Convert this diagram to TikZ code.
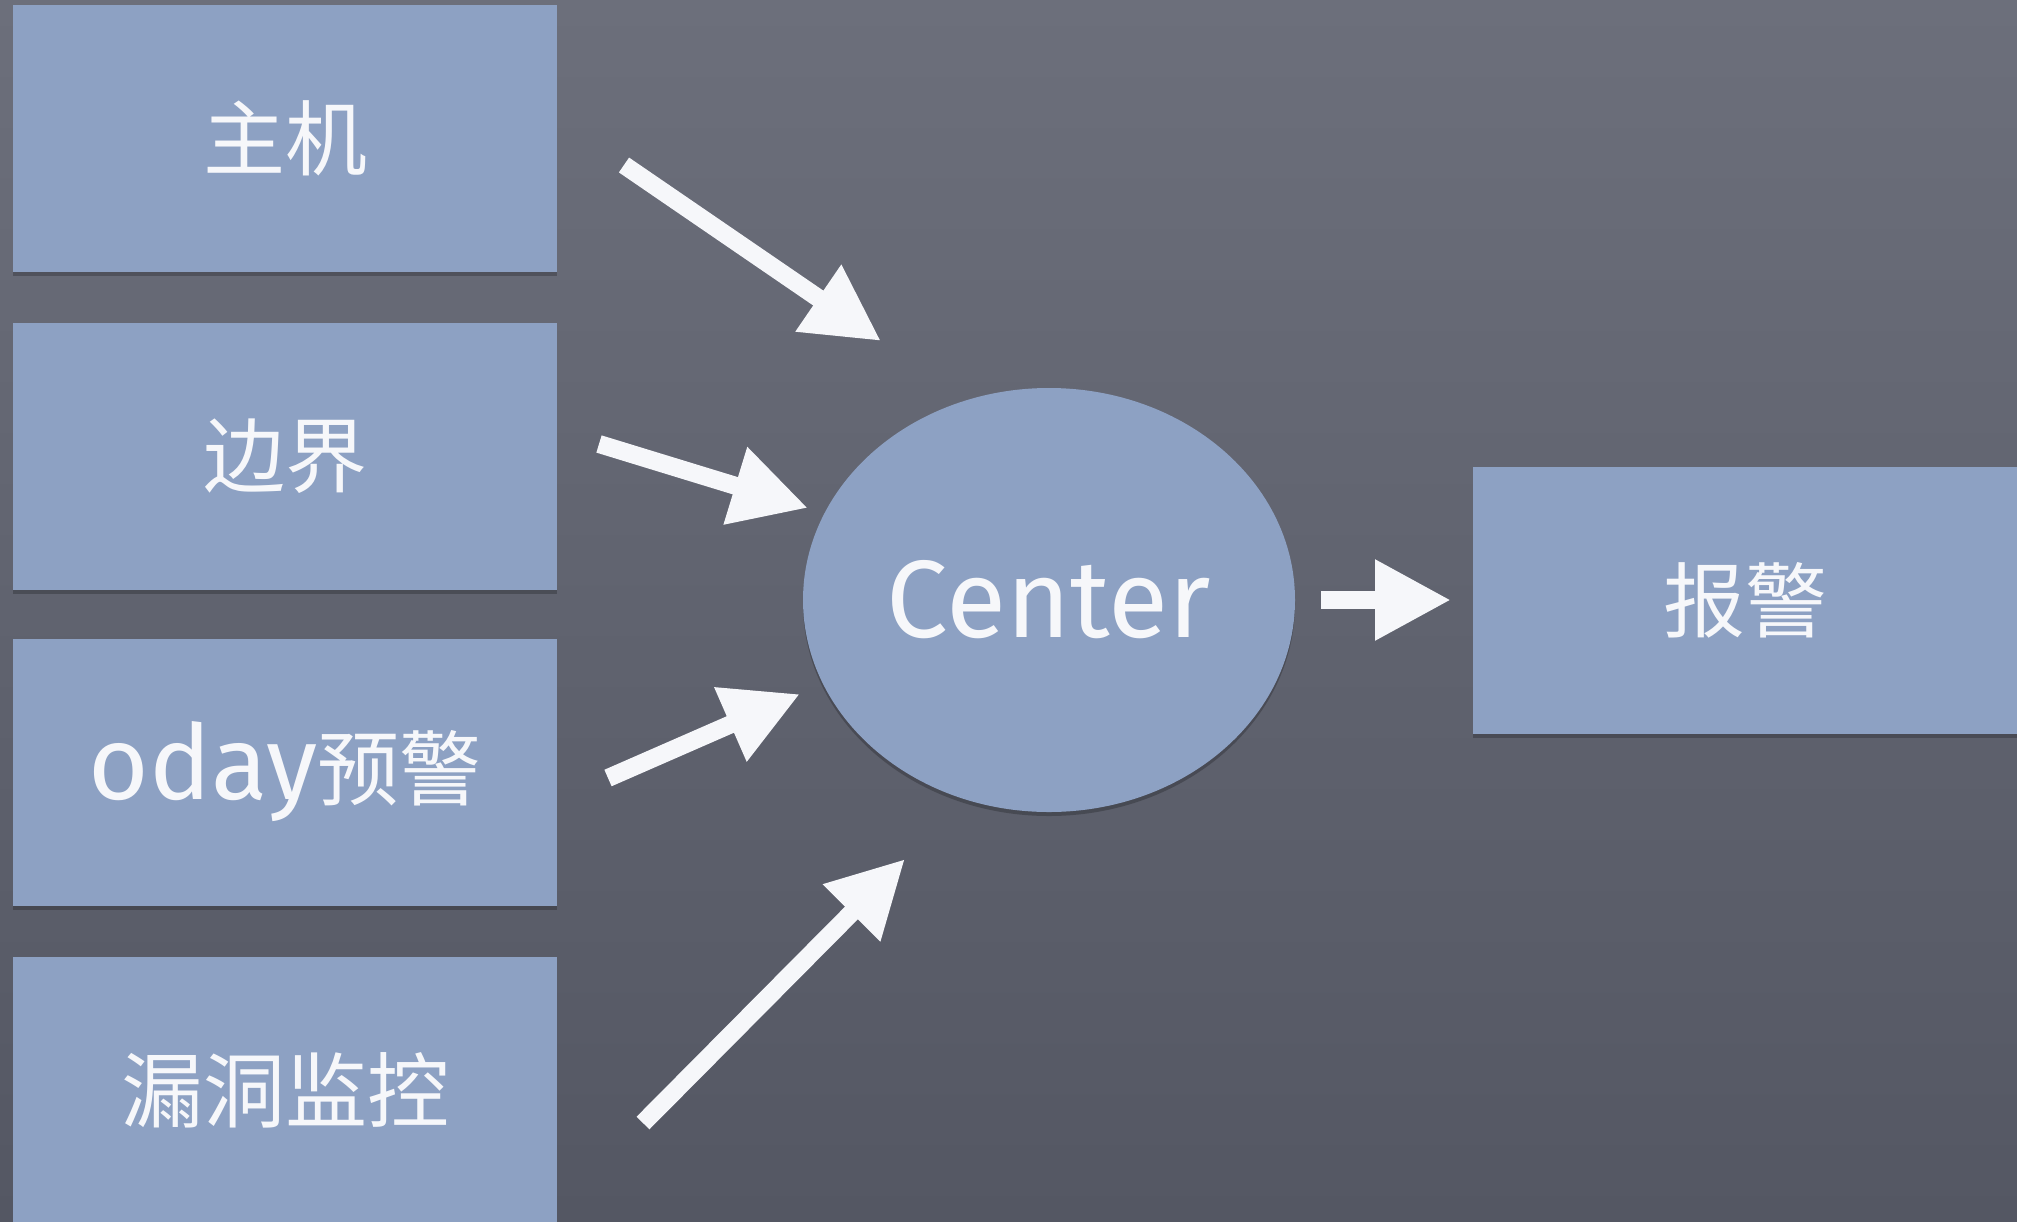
\documentclass[tikz,border=0pt]{standalone}
\usepackage{fontspec}
\setmainfont{Fira Sans}
\newfontfamily\cjk{Noto Sans CJK SC}
\newfontfamily\chalk{Fira Sans}
\usetikzlibrary{shapes.geometric,arrows.meta,shadows}
\definecolor{boardtop}{RGB}{108,111,123}
\definecolor{boardbot}{RGB}{84,87,99}
\definecolor{cardblue}{RGB}{141,161,195}
\definecolor{chalkwhite}{RGB}{246,247,250}
\tikzset{
  softshadow/.style={drop shadow={shadow xshift=0pt, shadow yshift=-2pt, opacity=0.22, fill=black}},
  cardbox/.style={rectangle, fill=cardblue, minimum width=272pt, minimum height=133.5pt, inner sep=0pt, softshadow},
  hub/.style={ellipse, fill=cardblue, minimum width=246pt, minimum height=212pt, inner sep=0pt, softshadow},
  cjklabel/.style={text=chalkwhite, font=\cjk\fontsize{41pt}{49pt}\selectfont},
  chalklabel/.style={text=chalkwhite, font=\chalk\fontsize{55pt}{62pt}\selectfont},
  chalkarrow/.style={draw=chalkwhite, line width=9pt,
    -{Triangle[length=38pt,width=38pt,fill=chalkwhite]}}
}
\begin{document}
\begin{tikzpicture}[x=0.5pt,y=-0.5pt]
\useasboundingbox (0,0) rectangle (2017,1221);
\clip (0,0) rectangle (2017,1221);
\shade[top color=boardtop,bottom color=boardbot] (0,0) rectangle (2017,1221);

\node[cardbox, cjklabel] (host) at (285,138) {主机};
\node[cardbox, cjklabel] (border) at (285,456) {边界};
\node[cardbox, cjklabel] (zeroday) at (285,772) {{\chalk\fontsize{52pt}{58pt}\selectfont oday}预警};
\node[cardbox, cjklabel] (vuln) at (285,1090) {漏洞监控};
\node[hub, chalklabel] (center) at (1049,600) {Center};
\node[cardbox, cjklabel] (alarm) at (1745,600) {报警};

\coordinate (a1s) at (624,165);  \coordinate (a1e) at (881,341);
\coordinate (a2s) at (599,444);  \coordinate (a2e) at (808,508);
\coordinate (a3s) at (608,778);  \coordinate (a3e) at (800,694);
\coordinate (a4s) at (643,1123); \coordinate (a4e) at (905,859);
\coordinate (a5s) at (1321,600); \coordinate (a5e) at (1451,600);

\draw[chalkarrow] (a1s) -- (a1e);
\draw[chalkarrow] (a2s) -- (a2e);
\draw[chalkarrow] (a3s) -- (a3e);
\draw[chalkarrow] (a4s) -- (a4e);
\draw[chalkarrow] (a5s) -- (a5e);
\end{tikzpicture}
\end{document}
